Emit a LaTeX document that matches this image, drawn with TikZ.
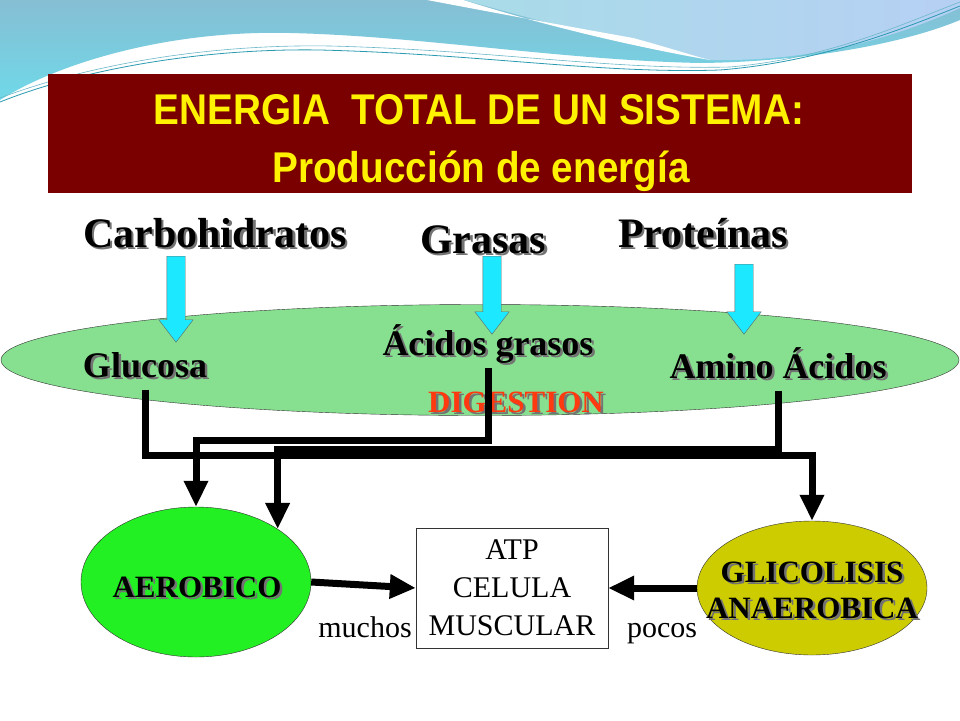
\documentclass[tikz,border=0pt]{standalone}
\usepackage{fontspec}
\setmainfont{Liberation Serif}
\newfontfamily\titlefont[FakeStretch=0.9]{Liberation Sans}
\usetikzlibrary{shapes.geometric, shapes.arrows, arrows.meta, positioning}

\definecolor{bannerred}{HTML}{7A0000}
\definecolor{gutgreen}{HTML}{86E08F}
\definecolor{aerogreen}{HTML}{22F022}
\definecolor{anaerolive}{HTML}{CCCC00}
\definecolor{feedcyan}{HTML}{1CE8FF}
\definecolor{digred}{HTML}{FF3A10}
\definecolor{wavesteel}{HTML}{86BED4}
\definecolor{wavecyan}{HTML}{6FD9E8}
\definecolor{wavesky}{HTML}{A8DCE8}
\definecolor{waveline}{HTML}{2A9AB0}

% text drawn twice: grey shadow first, then the named node
\newcommand{\shadowed}[4]{%
  \node[#1, text=black!55, xshift=2.5pt, yshift=-2.5pt] at (#3) {#4};
  \node[#1] (#2) at (#3) {#4};}

\begin{document}
\begin{tikzpicture}[
    x=1pt, y=-1pt,
    banner/.style={rectangle, fill=bannerred, minimum width=864pt, minimum height=119pt, inner sep=0pt},
    headline/.style={anchor=base, inner sep=0pt, text=yellow, font=\titlefont\bfseries\fontsize{43}{48}\selectfont},
    food/.style={anchor=base, inner sep=0pt, font=\bfseries\fontsize{42}{46}\selectfont},
    product/.style={anchor=base, inner sep=0pt, font=\bfseries\fontsize{36}{40}\selectfont},
    tag/.style={anchor=base, inner sep=0pt, font=\bfseries\fontsize{31}{36}\selectfont},
    plain/.style={anchor=base, inner sep=0pt, font=\fontsize{30}{36}\selectfont},
    feed/.style={single arrow, draw=black!60, fill=feedcyan, inner sep=9pt, single arrow head extend=8pt, single arrow tip angle=75, rotate=-90, anchor=tail},
    gut/.style={ellipse, draw=black!80, fill=gutgreen, minimum width=958pt, minimum height=111pt, inner sep=0pt},
    pathway/.style={ellipse, draw=black!80, inner sep=0pt},
    cellbox/.style={rectangle, draw=black!80, fill=white, minimum width=192pt, minimum height=120pt, align=center, font=\fontsize{30}{38}\selectfont},
    flow/.style={line width=7pt, -{Triangle[length=26pt, width=23pt]}}
]

% page and top wave
\useasboundingbox (0,0) rectangle (960,720);
\fill[white] (0,0) rectangle (960,720);
\shade[top color=wavesteel, bottom color=wavecyan] (0,0) -- (960,0) -- (960,20)
  .. controls (900,45) and (800,62) .. (700,63)
  .. controls (560,60) and (420,36) .. (290,33)
  .. controls (170,30) and (60,62) .. (0,100) -- cycle;
\shade[left color=wavesky, right color=wavesky!80!blue!60!white] (463,0)
  .. controls (540,20) and (620,45) .. (710,60)
  .. controls (820,62) and (900,35) .. (960,8) -- (960,0) -- cycle;
\fill[white] (427,0) .. controls (480,10) and (560,25) .. (633,38)
  .. controls (670,48) and (690,55) .. (710,60)
  .. controls (620,44) and (540,24) .. (463,0) -- cycle;
\draw[waveline, thick] (0,102) .. controls (80,70) and (200,48) .. (320,50)
  .. controls (480,54) and (600,74) .. (720,70) .. controls (820,62) and (900,30) .. (960,6);
\draw[waveline!70, semithick] (0,98) .. controls (90,64) and (210,44) .. (330,46)
  .. controls (490,50) and (610,70) .. (730,67) .. controls (830,58) and (900,25) .. (960,2);

% Title
\node[banner] (banner) at (480,133.5) {};
\node[headline] (title1) at (479,124) {ENERGIA\ \ TOTAL DE UN SISTEMA:};
\node[headline] (title2) at (481,182) {Producción de energía};

% Foods
\shadowed{food}{carbo}{215,247}{Carbohidratos}
\shadowed{food}{grasas}{483,253}{Grasas}
\shadowed{food}{prot}{703,247}{Proteínas}

% Digestion
\node[gut] (gut) at (480,360) {};
\node[feed, minimum height=86pt] (carbin) at (176,256) {};
\node[feed, minimum height=78pt] (grasin) at (492,256) {};
\node[feed, minimum height=70pt] (protin) at (744,264) {};

\shadowed{product}{glucosa}{145,377}{Glucosa}
\shadowed{product}{grasos}{488,355}{Ácidos grasos}
\shadowed{product}{amino}{778,378}{Amino Ácidos}
\shadowed{tag, text=digred}{digest}{516,412}{DIGESTION}

% Pathways
\node[pathway, fill=aerogreen, minimum width=230pt, minimum height=150pt] (aero) at (196,582) {};
\node[pathway, fill=anaerolive, minimum width=230pt, minimum height=134pt] (anaer) at (812,588) {};
\node[cellbox] (cell) at (512,588) {ATP\\CELULA\\MUSCULAR};

\shadowed{tag}{aerolbl}{197,597}{AEROBICO}
\shadowed{tag}{anaerlbl1}{812,582}{GLICOLISIS}
\shadowed{tag}{anaerlbl2}{812,618}{ANAEROBICA}

% Arrows
\draw[flow] ([yshift=-12pt]glucosa.south) -- ++(0,66) -| (anaer.north);
\draw[flow] ([yshift=-5pt]grasos.south) -- ++(0,72) -| (aero.north);
\draw[flow] ([yshift=-12pt]amino.south) -- ++(0,59) -| (aero.33);
\draw[flow] (aero.east) -- (cell.west);
\draw[flow] (anaer.west) -- (cell.east);

% Labels
\node[plain] (muchos) at (365,637) {muchos};
\node[plain] (pocos) at (662,637) {pocos};

\end{tikzpicture}
\end{document}
